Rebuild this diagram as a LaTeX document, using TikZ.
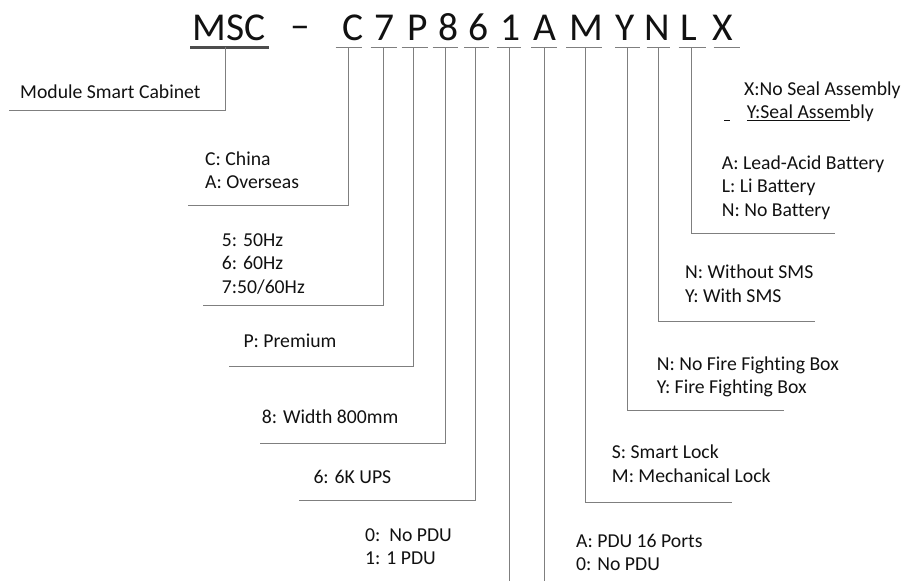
\documentclass[tikz,border=0pt]{standalone}
\usepackage{fontspec}
\setmainfont{Carlito}[Ligatures=NoCommon]
\usepackage{tikz}
\usetikzlibrary{positioning}
\definecolor{ink}{HTML}{111111}
\definecolor{rulegray}{HTML}{7F7F7F}
\definecolor{bargray}{HTML}{4D4D4D}
\tikzset{
  code/.style={font=\fontsize{39.5}{42}\selectfont,text=ink,anchor=base,inner sep=0pt},
  bar/.style={draw=rulegray,line width=.9pt},
  lead/.style={draw=rulegray,line width=1pt},
  legend/.style={font=\fontsize{19.7}{23.6}\selectfont,text=ink,align=left,anchor=base west,inner sep=0pt},
}

\begin{document}
\begin{tikzpicture}[x=1pt,y=-1pt]
  \useasboundingbox (0,0) rectangle (904,581);
  % model code
  \node[code] (msc) at (229,40) {MSC};
  \node[code] (dash) at (300,38.5) {–};
  \foreach \n/\x in {C/353,7/385,P/417.5,8/449,6/479,1/510.5,A/545,M/586.5,Y/625,N/657.5,L/689,X/723}
    {\node[code] (c\n) at (\x,40) {\n};}
  \draw[draw=bargray,line width=2.6pt] (190,47.3) -- (269,47.3);
  \coordinate (umsc) at (225.5,47.3);
  \foreach \n/\a/\b/\m in {C/335.5/361.5/348.7,7/370.5/396.5/383,P/401.5/428/413.3,8/432.5/458/445,
      6/464/488.5/475.8,1/496.7/521/509.5,A/531/556.5/544,M/566/602/585.5,Y/615/640/627.5,
      N/646.7/670/658.5,L/678.5/705.5/691.8,X/713.5/740/726.7}
    {\draw[bar] (\a,47.3) -- (\b,47.3);
     \coordinate (u\n) at (\m,47.3);}
  % leader lines
  \coordinate (emsc) at (9.3,110.7);
  \draw[lead] (umsc) |- (emsc);
  \foreach \n/\ex/\ey in {C/188/205.7,7/203.3/305.7,P/229/366.7,8/260/443,6/298.7/500.7,
      1/509.5/581,A/544/581,M/732/502.3,Y/784/410.7,N/814.5/321,L/835/233.3}
    {\coordinate (e\n) at (\ex,\ey);
     \draw[lead] (u\n) |- (e\n);}
  % legends (base = last line)
  \node[legend] (tmsc) at (20,98.5) {Module Smart Cabinet};
  \node[legend] (tC) at (205,188.6) {C: China\\A: Overseas};
  \node[legend] (t7) at (221.7,293.2) {5: 50Hz\\6: 60Hz\\7:50/60Hz};
  \node[legend] (tP) at (243.3,347) {P: Premium};
  \node[legend] (t8) at (261.7,423.7) {8: Width 800mm};
  \node[legend] (t6) at (313.3,483.7) {6: 6K UPS};
  \node[legend] (t1) at (365,564.6) {0:\ \ No PDU\\1: 1 PDU};
  \node[legend] (tA) at (576,570.6) {A: PDU 16 Ports\\0: No PDU};
  \node[legend] (tM) at (611.7,482.3) {S: Smart Lock\\M: Mechanical Lock};
  \node[legend] (tY) at (656.7,393.6) {N: No Fire Fighting Box\\Y: Fire Fighting Box};
  \node[legend] (tN) at (685,302.3) {N: Without SMS\\Y: With SMS};
  \node[legend] (tL) at (721.7,216.5) {A: Lead-Acid Battery\\L: Li Battery\\N: No Battery};
  \node[legend] (tX) at (744,118.9) {X:No Seal Assembly\\
    \hspace*{-20pt}\underline{\hspace{5.3pt}}\hspace*{17.4pt}\underline{Y:Seal Assem}bly};
\end{tikzpicture}
\end{document}
